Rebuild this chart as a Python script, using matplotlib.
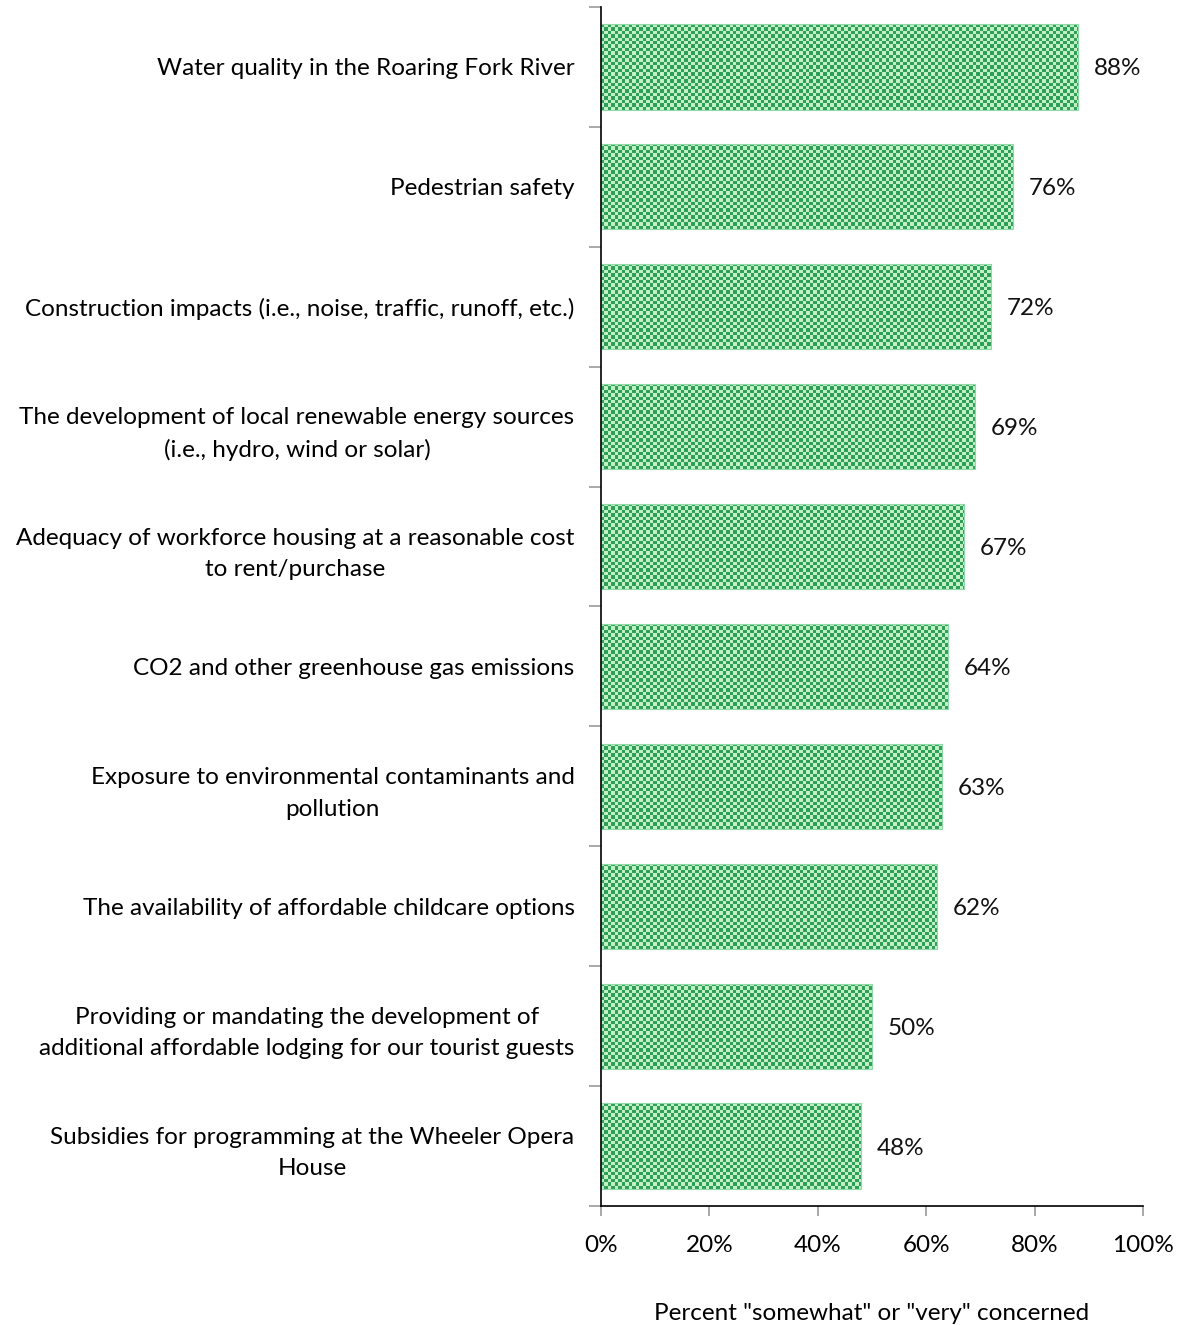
import matplotlib
matplotlib.use("Agg")
import matplotlib.pyplot as plt
import numpy as np

# survey items, top to bottom
labels = [
    "Water quality in the Roaring Fork River",
    "Pedestrian safety",
    "Construction impacts (i.e., noise, traffic, runoff, etc.)",
    "The development of local renewable energy sources\n(i.e., hydro, wind or solar)",
    "Adequacy of workforce housing at a reasonable cost\nto rent/purchase",
    "CO2 and other greenhouse gas emissions",
    "Exposure to environmental contaminants and\npollution",
    "The availability of affordable childcare options",
    "Providing or mandating the development of\nadditional affordable lodging for our tourist guests",
    "Subsidies for programming at the Wheeler Opera\nHouse",
]
pct = [88, 76, 72, 69, 67, 64, 63, 62, 50, 48]
xticks = [0, 20, 40, 60, 80, 100]

plt.rcParams['font.family'] = ['Lato', 'DejaVu Sans']
FS = 17.5

fig = plt.figure(figsize=(11.81, 13.25), dpi=100)
ax = fig.add_axes([601 / 1181, 1 - 1206 / 1325, 542 / 1181, 1199 / 1325])

n = len(labels)
ypos = np.arange(n)
bars = ax.barh(ypos, pct, height=0.71, color='none', edgecolor='#8fd8a8', linewidth=0.8)
ax.set_xlim(0, 100)
ax.set_ylim(n - 0.5, -0.5)

# checkerboard fill, clipped to each bar
cols = 156
rows = 350
cb = (np.add.outer(np.arange(rows), np.arange(cols)) % 2)
cmap = matplotlib.colors.ListedColormap(['#bff2c0', '#2f9e5c'])
for b in bars:
    im = ax.imshow(cb, cmap=cmap, extent=(0, 100, n - 0.5, -0.5), aspect='auto',
                   interpolation='nearest', zorder=1)
    im.set_clip_path(b)
for b in bars:
    b.set_zorder(2)

for y, v in zip(ypos, pct):
    ax.text(v + 2.9, y, f"{v}%", va='center_baseline', ha='left', fontsize=FS, color='#111111')

ax.set_yticks(ypos)
ax.set_yticklabels(labels, fontsize=FS, linespacing=1.6, multialignment='center')
ax.set_yticks(np.arange(n + 1) - 0.5, minor=True)
ax.tick_params(axis='y', which='major', length=0, pad=19)
ax.tick_params(axis='y', which='minor', length=9, color='#999999', width=1.2)

ax.set_xticks(xticks)
ax.set_xticklabels([f"{t}%" for t in xticks], fontsize=FS)
ax.tick_params(axis='x', length=7, color='#999999', width=1.2, pad=14)
ax.set_xlabel('Percent "somewhat" or "very" concerned', fontsize=FS, labelpad=34)

for s in ['top', 'right']:
    ax.spines[s].set_visible(False)
ax.spines['left'].set_linewidth(1.2)
ax.spines['bottom'].set_linewidth(1.2)

fig.savefig("out.png", dpi=100)
